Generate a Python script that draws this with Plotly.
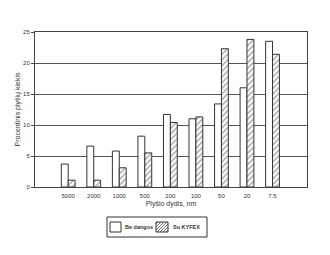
import plotly.graph_objects as go

categories = ["5000", "2000", "1000", "500", "200", "100", "50", "20", "7.5"]
be_dangos = [3.7, 6.6, 5.8, 8.2, 11.7, 11.0, 13.4, 16.0, 23.5]
su_kyfex = [1.1, 1.1, 3.1, 5.5, 10.4, 11.3, 22.3, 23.8, 21.4]
y_ticks = [0, 5, 10, 15, 20, 25]

W, H = 330, 255
ML, MR, MT, MB = 35, 23, 32, 68
PW, PH = W - ML - MR, H - MT - MB


def px(x):
    return (x - ML) / PW


def py(y):
    return (H - MB - y) / PH


xpos = list(range(len(categories)))
font = dict(family="Liberation Sans, Arial, sans-serif", color="#333", size=7)

fig = go.Figure()
fig.add_trace(go.Bar(
    x=xpos, y=be_dangos, name="Be dangos",
    marker=dict(color="white", line=dict(color="#333", width=1)),
))
fig.add_trace(go.Bar(
    x=xpos, y=su_kyfex, name="Su KYFEX",
    marker=dict(color="white", line=dict(color="#333", width=1),
                pattern=dict(shape="/", fgcolor="#444", bgcolor="white", size=4, solidity=0.35)),
))

# manual legend (box, swatches, labels)
shapes = []
line = dict(color="#333", width=1)
shapes.append(dict(type="rect", xref="paper", yref="paper",
                   x0=px(107), x1=px(207), y0=py(217), y1=py(237), line=line, fillcolor="white"))
shapes.append(dict(type="rect", xref="paper", yref="paper",
                   x0=px(110), x1=px(121), y0=py(222), y1=py(232), line=line, fillcolor="white"))
shapes.append(dict(type="rect", xref="paper", yref="paper",
                   x0=px(156), x1=px(168), y0=py(222), y1=py(232), line=line, fillcolor="white"))
sx0, sx1, sy0, sy1 = 156, 168, 222, 232
for k in range(-8, 14, 3):
    xa, ya = sx0 + k, sy1
    xb, yb = sx0 + k + (sy1 - sy0), sy0
    if xa < sx0:
        ya = sy1 - (sx0 - xa)
        xa = sx0
    if xb > sx1:
        yb = sy0 + (xb - sx1)
        xb = sx1
    if xa >= xb:
        continue
    shapes.append(dict(type="line", xref="paper", yref="paper",
                       x0=px(xa), y0=py(ya), x1=px(xb), y1=py(yb),
                       line=dict(color="#444", width=0.8)))

annotations = [
    dict(text="<b>Be dangos</b>", x=px(123), y=py(227), xref="paper", yref="paper",
         xanchor="left", yanchor="middle", showarrow=False, font=dict(size=5.5, color="#333")),
    dict(text="<b>Su KYFEX</b>", x=px(171), y=py(227), xref="paper", yref="paper",
         xanchor="left", yanchor="middle", showarrow=False, font=dict(size=5.5, color="#333")),
]

fig.update_layout(
    width=W, height=H,
    margin=dict(l=ML, r=MR, t=MT, b=MB),
    paper_bgcolor="white", plot_bgcolor="white",
    barmode="group", bargap=0.46, bargroupgap=0,
    font=font,
    showlegend=False,
    shapes=shapes, annotations=annotations,
    xaxis=dict(
        range=[-1.3, 9.35], tickmode="array", tickvals=xpos, ticktext=categories,
        showgrid=False, showline=True, linecolor="#444", linewidth=1, mirror=True,
        ticks="outside", ticklen=3, tickcolor="rgba(0,0,0,0)", tickfont=dict(size=6),
        title=dict(text="Plyšio dydis, nm", font=dict(size=7), standoff=2),
    ),
    yaxis=dict(
        range=[0, 25], tickmode="array", tickvals=y_ticks,
        showgrid=True, gridcolor="#555", gridwidth=1,
        showline=True, linecolor="#444", linewidth=1, mirror=True,
        ticks="outside", ticklen=3, tickcolor="#444", tickfont=dict(size=6),
        title=dict(text="Procentinis plyšių kiekis", font=dict(size=7), standoff=1),
    ),
)

fig.write_html("out.html")
